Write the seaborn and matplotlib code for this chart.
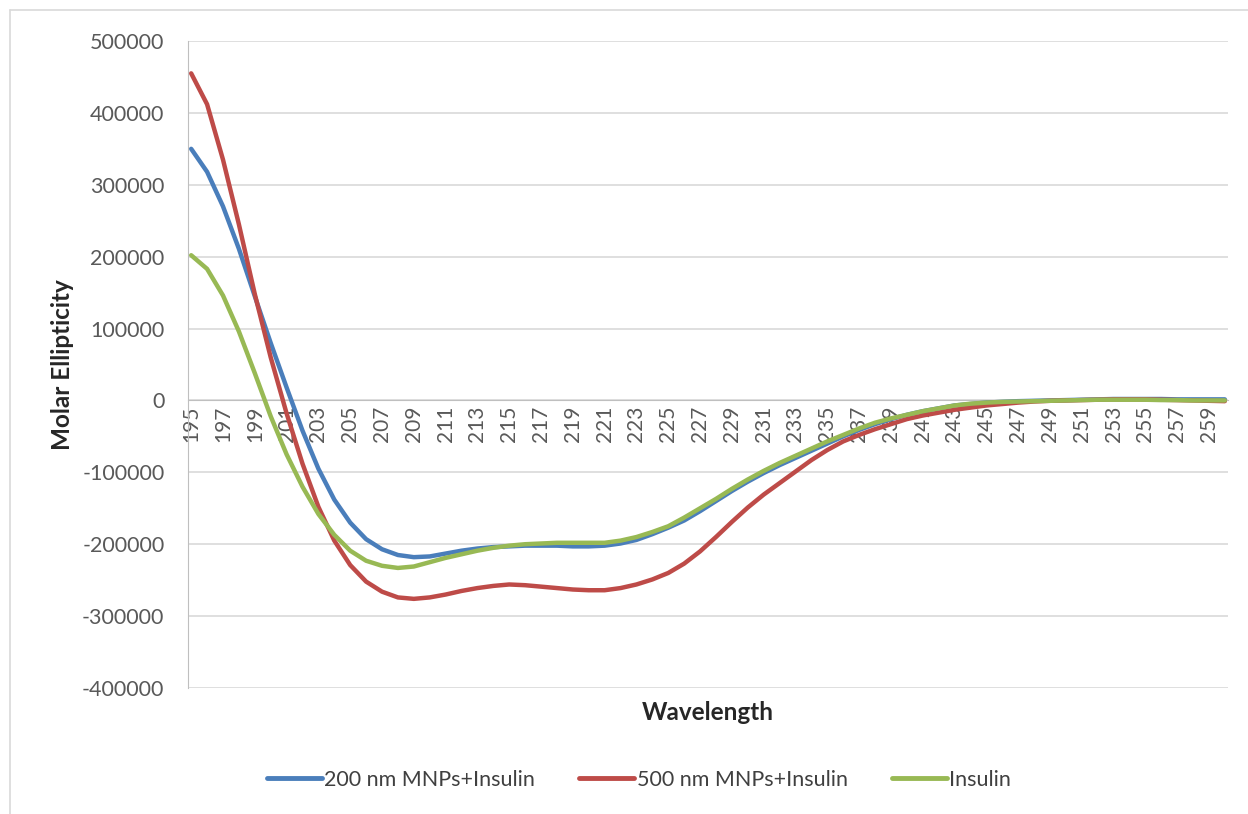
import numpy as np
import pandas as pd
import matplotlib
matplotlib.use("Agg")
import matplotlib.pyplot as plt
import seaborn as sns
from matplotlib.lines import Line2D

wavelength = list(range(195, 261))

mnp_200 = [
    350000, 318000, 270000, 211000, 145000, 80000, 18000, -42000, -95000, -138000,
    -170000, -193000, -207000, -215000, -218000, -217000, -213000, -209000, -206000, -204000,
    -203000, -202000, -202000, -202000, -203000, -203000, -202000, -199000, -194000, -186000,
    -177000, -167000, -154000, -140000, -126000, -113000, -101000, -90000, -80000, -70000,
    -60000, -50000, -41000, -33000, -26000, -20000, -15000, -11000, -7000, -5000,
    -3000, -2000, -1000, -500, 0, 500, 1000, 1500, 2000, 2000,
    2000, 2000, 1500, 1500, 1500, 1500,
]

mnp_500 = [
    455000, 412000, 335000, 245000, 148000, 60000, -18000, -88000, -148000, -195000,
    -229000, -252000, -266000, -274000, -276000, -274000, -270000, -265000, -261000, -258000,
    -256000, -257000, -259000, -261000, -263000, -264000, -264000, -261000, -256000, -249000,
    -240000, -227000, -210000, -190000, -169000, -149000, -131000, -115000, -99000, -83000,
    -69000, -57000, -48000, -40000, -33000, -26000, -21000, -17000, -13000, -10000,
    -7000, -5000, -3000, -1500, -500, 0, 500, 1000, 1500, 1500,
    1500, 1000, 500, 0, -500, -1000,
]

insulin = [
    202000, 183000, 146000, 96000, 38000, -22000, -75000, -120000, -158000, -187000,
    -209000, -223000, -230000, -233000, -231000, -225000, -219000, -214000, -209000, -205000,
    -202000, -200000, -199000, -198000, -198000, -198000, -198000, -195000, -190000, -183000,
    -175000, -163000, -150000, -137000, -123000, -110000, -98000, -87000, -77000, -67000,
    -57000, -48000, -39000, -31000, -25000, -20000, -15000, -11000, -7000, -4500,
    -3000, -2000, -1500, -1000, -500, 0, 500, 1000, 1000, 1000,
    1000, 500, 500, 0, 0, 0,
]

series_names = ["200 nm MNPs+Insulin", "500 nm MNPs+Insulin", "Insulin"]
colors = ["#4A7EBB", "#BE4B48", "#98B954"]

df = pd.concat([
    pd.DataFrame({"Wavelength": wavelength, "Molar Ellipticity": vals, "Sample": name})
    for name, vals in zip(series_names, [mnp_200, mnp_500, insulin])
])

sns.set_style("white")
plt.rcParams["font.family"] = ["Lato", "DejaVu Sans"]

fig = plt.figure(figsize=(12.48, 8.14), dpi=100)
ax = fig.add_axes([188 / 1248, 1 - 688 / 814, (1228 - 188) / 1248, (688 - 41) / 814])

sns.lineplot(data=df, x="Wavelength", y="Molar Ellipticity", hue="Sample",
             hue_order=series_names, palette=colors, linewidth=3.2, ax=ax,
             legend=False, zorder=3)

# x axis crosses at zero, like the Excel chart
for side in ["top", "right"]:
    ax.spines[side].set_visible(False)
ax.spines["left"].set_color("#BFBFBF")
ax.spines["bottom"].set_color("#BFBFBF")
ax.spines["bottom"].set_position(("data", 0))

ax.set_xlim(194.8, 260.2)
ax.set_ylim(-400000, 500000)
ax.set_yticks(np.arange(-400000, 500001, 100000))
ax.set_yticklabels([str(v) for v in range(-400000, 500001, 100000)],
                   fontsize=15.5, color="#595959")
ax.set_xticks(wavelength[::2])
ax.set_xticklabels([str(w) for w in wavelength[::2]], rotation=90,
                   fontsize=15, color="#595959")
ax.tick_params(axis="both", length=0)
ax.tick_params(axis="y", pad=17)
ax.tick_params(axis="x", pad=4)

ax.yaxis.grid(True, color="#D9D9D9", linewidth=1.2)
ax.set_axisbelow(True)

ax.set_ylabel("Molar Ellipticity", fontsize=17.5, fontweight="bold")
ax.yaxis.set_label_coords(-0.11, 0.5)
ax.set_xlabel("")
fig.text((188 + 1228) / 2 / 1248, 1 - 712 / 814, "Wavelength",
         ha="center", va="center", fontsize=17.5, fontweight="bold")

handles = [Line2D([0], [0], color=c, linewidth=3.5, solid_capstyle="round")
           for c in colors]
fig.legend(handles, series_names, loc="center", bbox_to_anchor=(0.512, 1 - 780 / 814),
           ncol=3, frameon=False, fontsize=15.5, handlelength=2.55, handletextpad=0.1,
           columnspacing=2.05, labelcolor="#404040")

# chart area border
fig.add_artist(Line2D([10 / 1248, 10 / 1248], [0, 1 - 10 / 814], color="#D9D9D9",
                      linewidth=1.2, transform=fig.transFigure))
fig.add_artist(Line2D([10 / 1248, 1], [1 - 10 / 814, 1 - 10 / 814], color="#D9D9D9",
                      linewidth=1.2, transform=fig.transFigure))

fig.savefig("out.png", dpi=100)
